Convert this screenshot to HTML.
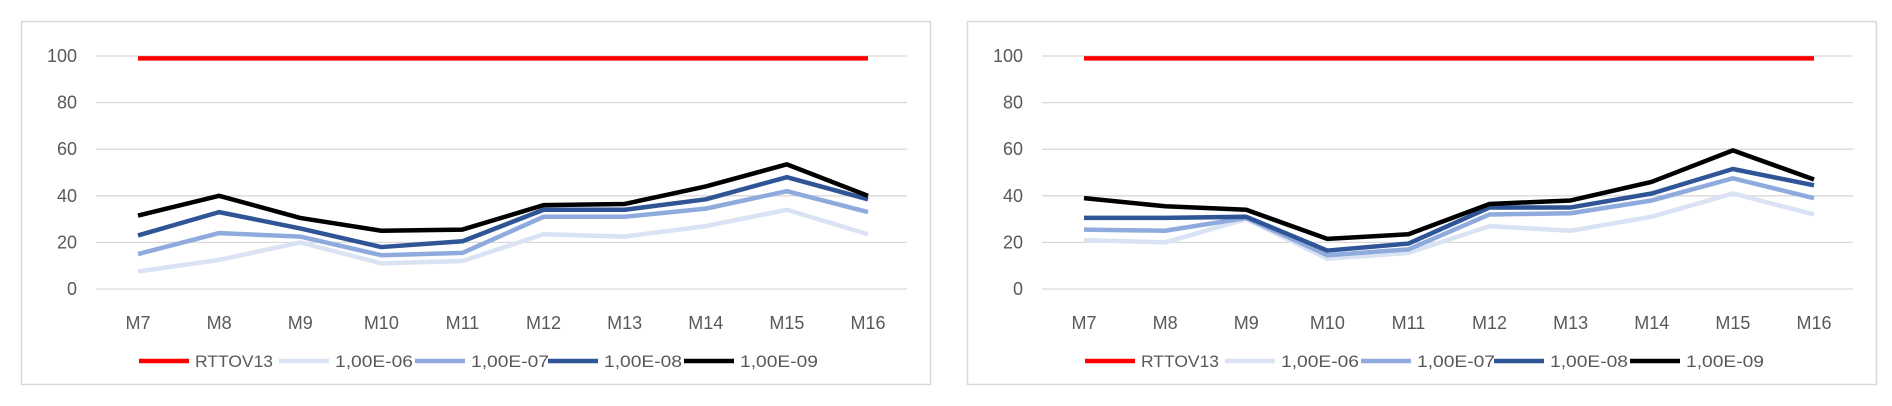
<!DOCTYPE html>
<html><head><meta charset="utf-8">
<style>
html,body{margin:0;padding:0;background:#fff;}
svg{display:block;font-family:"Liberation Sans",sans-serif;}
</style></head>
<body>
<svg id="svg" width="1892" height="406" xmlns="http://www.w3.org/2000/svg"></svg>
<script>
const categories=["M7","M8","M9","M10","M11","M12","M13","M14","M15","M16"];
const yTicks=[0,20,40,60,80,100];
const seriesNames=["RTTOV13","1,00E-06","1,00E-07","1,00E-08","1,00E-09"];
const seriesColors=["#ff0000","#dae3f3","#8faadc","#2f5597","#000000"];
const leftRTTOV=[99,99,99,99,99,99,99,99,99,99];
const leftE06=[7.5,12.5,20,11,12,23.5,22.5,27,34,23.5];
const leftE07=[15,24,22.5,14.5,15.5,31,31,34.5,42,33];
const leftE08=[23,33,26,18,20.5,34,34,38.5,48,38.5];
const leftE09=[31.5,40,30.5,25,25.5,36,36.5,44,53.5,40];
const rightRTTOV=[99,99,99,99,99,99,99,99,99,99];
const rightE06=[21,20,30,13,15.5,27,25,31,41,32];
const rightE07=[25.5,25,30.5,14.5,17,32,32.5,38,47.5,39];
const rightE08=[30.5,30.5,31,16.5,19.5,35,35,41,51.5,44.5];
const rightE09=[39,35.5,34,21.5,23.5,36.5,38,46,59.5,47];

const NS="http://www.w3.org/2000/svg";
const svg=document.getElementById('svg');
function mk(tag,attrs,parent){const e=document.createElementNS(NS,tag);for(const k in attrs)e.setAttribute(k,attrs[k]);parent.appendChild(e);return e;}

function drawChart(ox,series,label){
  const g=mk('g',{},svg);
  
  
  const frame=mk('rect',{x:ox+21.5,y:21.5,width:909,height:363,fill:'#fff',stroke:'#d9d9d9','stroke-width':1.5},g);
  
  
  const yPix=v=>289-(v/100)*233;
  const xPix=i=>ox+138+i*(730/9);
  yTicks.forEach(t=>{
    const gl=mk('line',{x1:ox+96,x2:ox+907,y1:yPix(t),y2:yPix(t),stroke:'#d9d9d9','stroke-width':1.3},g);
    
    
    const tx=mk('text',{x:ox+77,y:yPix(t)+6,'text-anchor':'end','font-size':18,fill:'#595959'},g);
    tx.textContent=t;
    
    
  });
  categories.forEach((c,i)=>{
    const tx=mk('text',{x:xPix(i),y:329,'text-anchor':'middle','font-size':18,fill:'#595959'},g);
    tx.textContent=c;
    
    
  });
  series.forEach((vals,s)=>{
    const pts=vals.map((v,i)=>xPix(i)+','+yPix(v)).join(' ');
    const pl=mk('polyline',{points:pts,fill:'none',stroke:seriesColors[s],'stroke-width':4.5,'stroke-linejoin':'round'},g);
    
    
  });
  const lx=[139,279,415,548,684];
  const lw=[78,78,78,78,78];
  seriesNames.forEach((n,s)=>{
    const ln=mk('line',{x1:ox+lx[s],x2:ox+lx[s]+50,y1:361,y2:361,stroke:seriesColors[s],'stroke-width':4.5},g);
    
    
    const tx=mk('text',{x:ox+lx[s]+56,y:367,'font-size':17,fill:'#595959',textLength:lw[s],lengthAdjust:'spacingAndGlyphs'},g);
    tx.textContent=n;
    
    
  });
}
drawChart(0,[leftRTTOV,leftE06,leftE07,leftE08,leftE09],'left-chart');
drawChart(946,[rightRTTOV,rightE06,rightE07,rightE08,rightE09],'right-chart');
</script>
</body></html>
